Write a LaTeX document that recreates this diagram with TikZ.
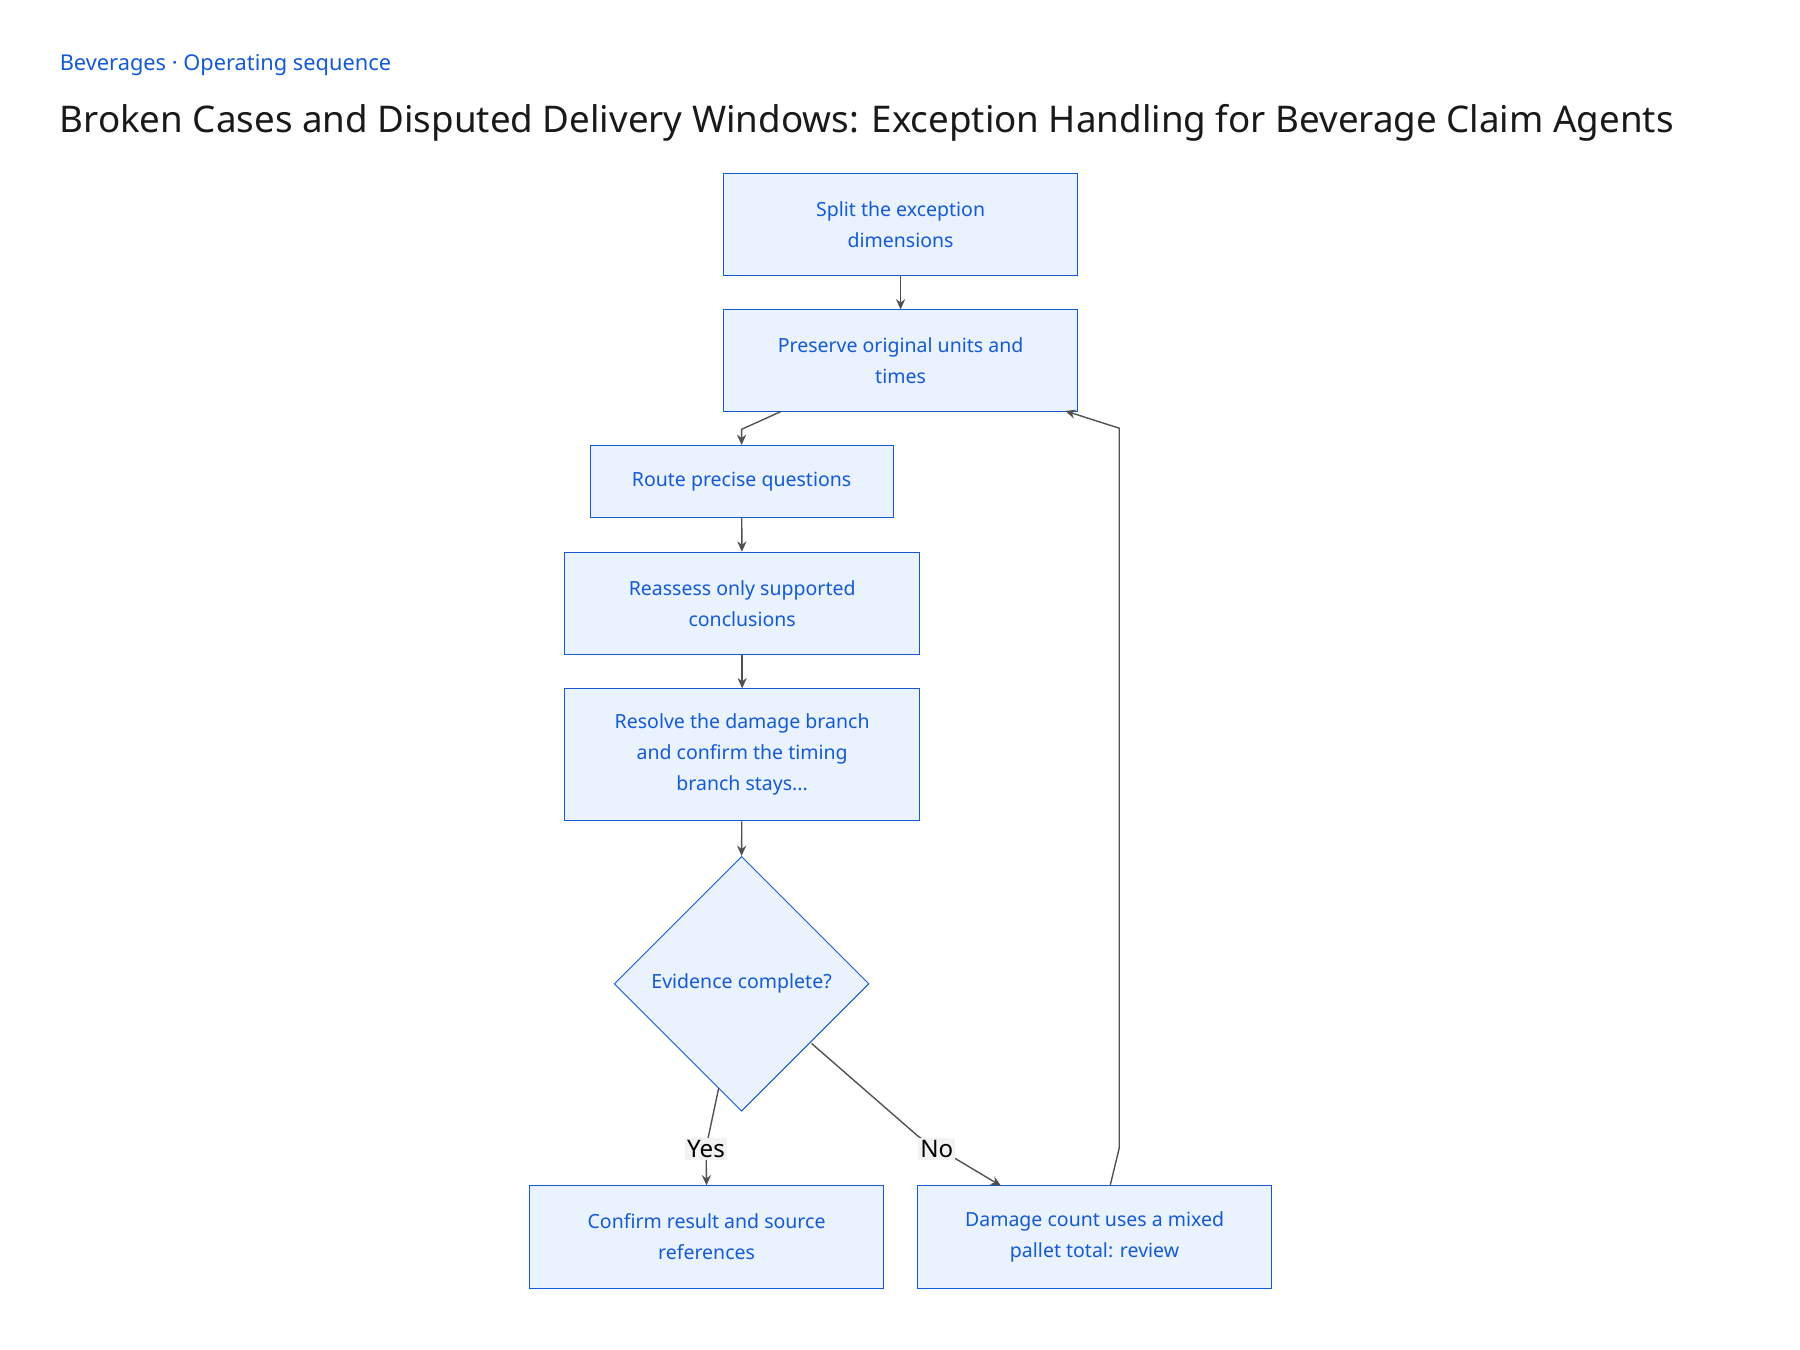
\documentclass[tikz,border=0pt]{standalone}
\usepackage{fontspec}
\setmainfont{Noto Sans}
\usetikzlibrary{shapes.geometric,arrows.meta}
\definecolor{bl}{RGB}{20,90,215}
\definecolor{fillb}{RGB}{234,242,253}
\definecolor{ln}{RGB}{80,80,80}
\tikzset{
 box/.style={draw=bl,fill=fillb,text=bl,align=center,font=\fontsize{8.5}{13.5}\selectfont,inner sep=0pt},
 conn/.style={draw=ln,line width=0.6pt,-{Stealth[length=4.5pt,width=4pt]}},
 lab/.style={fill=black!5,text=black,font=\fontsize{10.5}{12}\selectfont,inner sep=1pt}
}
\begin{document}
\begin{tikzpicture}[x=0.5pt,y=-0.5pt]
\useasboundingbox (0,0) rectangle (1568,1176);
\fill[white] (0,0) rectangle (1568,1176);
\node[anchor=west,text=bl,font=\fontsize{9.5}{12}\selectfont] (sub) at (45,57) {Beverages · Operating sequence};
\node[anchor=west,font=\fontsize{16}{20}\selectfont,text=black!90] (title) at (45,107) {Broken Cases and Disputed Delivery Windows: Exception Handling for Beverage Claim Agents};
\node[box,minimum width=154.5pt,minimum height=44.5pt] (A) at (784.5,195.5) {Split the exception\\dimensions};
\node[box,minimum width=154.5pt,minimum height=44pt] (B) at (784.5,314) {Preserve original units and\\times};
\node[box,minimum width=132pt,minimum height=31.5pt] (C) at (646,419.5) {Route precise questions};
\node[box,minimum width=154.5pt,minimum height=44.5pt] (D) at (646.5,525.5) {Reassess only supported\\conclusions};
\node[box,minimum width=154.5pt,minimum height=57.5pt] (E) at (646.5,657.5) {Resolve the damage branch\\and confirm the timing\\branch stays...};
\node[box,diamond,minimum width=111pt,minimum height=111pt] (F) at (646,857) {Evidence complete?};
\node[box,minimum width=154.5pt,minimum height=44.5pt] (G) at (615.5,1077.5) {Confirm result and source\\references};
\node[box,minimum width=154.5pt,minimum height=44.5pt] (H) at (953.5,1077.5) {Damage count uses a mixed\\pallet total: review};
\draw[conn] (A) -- (B);
\draw[conn] (B.south) ++(-104,0) coordinate (b1) -- (646,374) -- (C.north);
\draw[conn] (C) -- (D);
\draw[conn] (D) -- (E);
\draw[conn] (E) -- (F.north);
\draw[conn] (626,948) -- (615,1000) -- (G.north);
\draw[conn] (707,909) -- (800,990) -- (872,1033);
\draw[conn] (967,1033) -- (975,1000) -- (975,373) -- (928,358);
\node[lab] (yes) at (615,1001) {Yes};
\node[lab] (no) at (816,1001) {No};
\end{tikzpicture}
\end{document}
